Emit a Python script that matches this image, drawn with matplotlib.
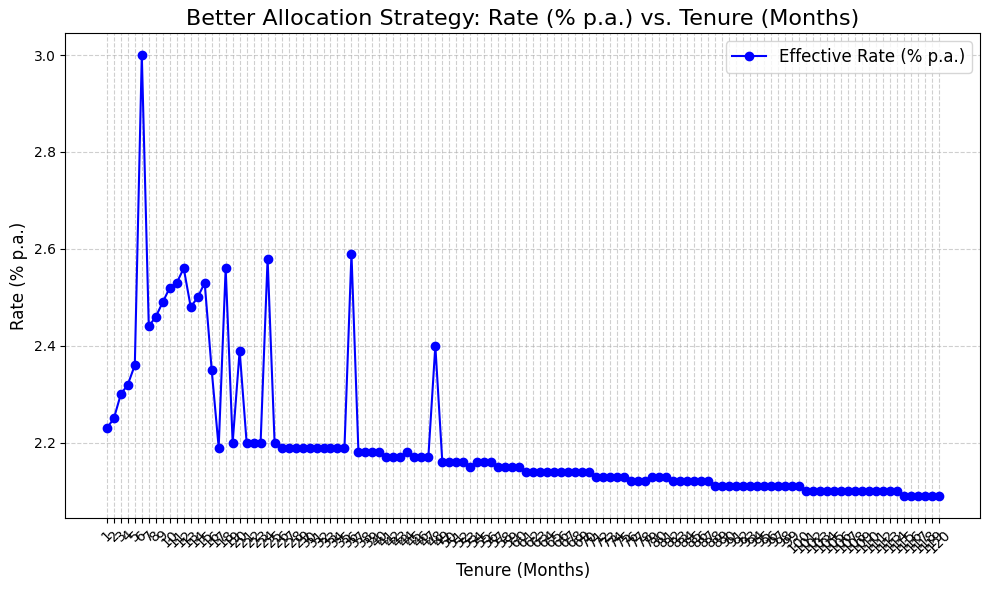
import matplotlib.pyplot as plt

tenure = list(range(1, 121))

rates = [
    2.23, 2.25, 2.30, 2.32, 2.36, 3.00, 2.44, 2.46, 2.49, 2.52,
    2.53, 2.56, 2.48, 2.50, 2.53, 2.35, 2.19, 2.56, 2.20, 2.39,
    2.20, 2.20, 2.20, 2.58, 2.20, 2.19, 2.19, 2.19, 2.19, 2.19,
    2.19, 2.19, 2.19, 2.19, 2.19, 2.59, 2.18, 2.18, 2.18, 2.18,
    2.17, 2.17, 2.17, 2.18, 2.17, 2.17, 2.17, 2.40, 2.16, 2.16,
    2.16, 2.16, 2.15, 2.16, 2.16, 2.16, 2.15, 2.15, 2.15, 2.15,
    2.14, 2.14, 2.14, 2.14, 2.14, 2.14, 2.14, 2.14, 2.14, 2.14,
    2.13, 2.13, 2.13, 2.13, 2.13, 2.12, 2.12, 2.12, 2.13, 2.13,
    2.13, 2.12, 2.12, 2.12, 2.12, 2.12, 2.12, 2.11, 2.11, 2.11,
    2.11, 2.11, 2.11, 2.11, 2.11, 2.11, 2.11, 2.11, 2.11, 2.11,
    2.10, 2.10, 2.10, 2.10, 2.10, 2.10, 2.10, 2.10, 2.10, 2.10,
    2.10, 2.10, 2.10, 2.10, 2.09, 2.09, 2.09, 2.09, 2.09, 2.09,
]

fig = plt.figure(figsize=(9.89, 5.9), dpi=100)
plt.plot(tenure, rates, marker='o', linestyle='-', color='blue', label='Effective Rate (% p.a.)')
plt.title('Better Allocation Strategy: Rate (% p.a.) vs. Tenure (Months)', fontsize=16)
plt.xlabel('Tenure (Months)', fontsize=12)
plt.ylabel('Rate (% p.a.)', fontsize=12)
plt.xticks(tenure, rotation=45)
plt.grid(True, linestyle='--', alpha=0.6)
plt.legend(fontsize=12)
plt.subplots_adjust(left=0.066, right=0.991, top=0.944, bottom=0.122)

plt.savefig('out.png', dpi=100)
